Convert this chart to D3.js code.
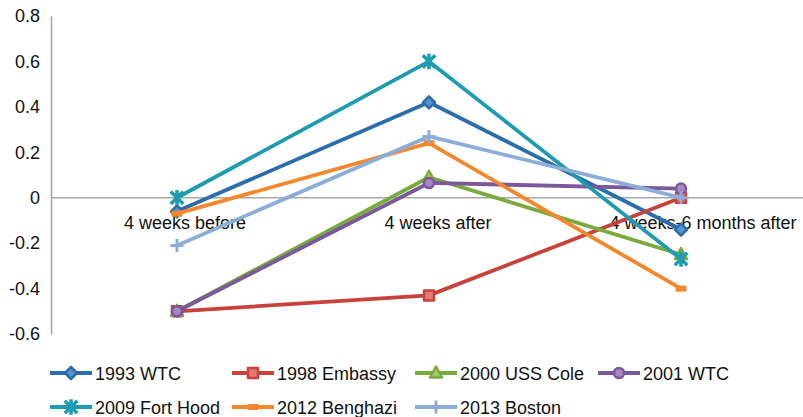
<!DOCTYPE html>
<html>
<head>
<meta charset="utf-8">
<script src="https://cdn.jsdelivr.net/npm/d3@7"></script>
<style>
  html, body { margin: 0; padding: 0; background: #fff; }
  svg { display: block; }
  text { font-family: "Liberation Sans", Arial, Helvetica, sans-serif; fill: #111; }
</style>
</head>
<body>
<svg id="chart" width="803" height="417"></svg>
<script>
// ---- data ----
const categories = ["4 weeks before", "4 weeks after", "4 weeks-6 months after"];
const seriesNames = ["1993 WTC", "1998 Embassy", "2000 USS Cole", "2001 WTC", "2009 Fort Hood", "2012 Benghazi", "2013 Boston"];
const wtc1993   = [-0.06, 0.42, -0.14];
const embassy   = [-0.50, -0.43, 0.00];
const ussCole   = [-0.50, 0.09, -0.25];
const wtc2001   = [-0.50, 0.065, 0.04];
const fortHood  = [0.00, 0.60, -0.27];
const benghazi  = [-0.07, 0.24, -0.40];
const boston    = [-0.21, 0.27, 0.00];
const seriesValues = [wtc1993, embassy, ussCole, wtc2001, fortHood, benghazi, boston];
const yTicks = [0.8, 0.6, 0.4, 0.2, 0, -0.2, -0.4, -0.6];

// ---- styles ----
const colors = ["#2b6cab", "#c8413b", "#79aa3d", "#7b589c", "#1d9bb0", "#f5872d", "#8cadd8"];
const fills  = ["#5b93cc", "#e07a74", "#9fcb6a", "#a687c2", "#52bfd0", "#f9a760", "#b4cbea"];
const markers = ["diamond", "square", "triangle", "circle", "x", "dash", "plus"];
const labelDx = [8, 9, 22];

const svg = d3.select("#chart");
const margin = {left: 51, top: 16, bottom: 334};

const x = d3.scaleBand().domain(categories).range([51, 807]);
const y = d3.scaleLinear().domain([-0.6, 0.8]).range([334, 16]);
const cx = c => x(c) + x.bandwidth() / 2;

// axes
const fmt = d => d === 0 ? "0" : d3.format(".1f")(d).replace("\u2212", "-");
const yAxis = d3.axisLeft(y).tickValues(yTicks).tickFormat(fmt).tickSize(0).tickPadding(11);
const gy = svg.append("g").attr("transform", `translate(${margin.left},0)`).call(yAxis);
gy.select(".domain").attr("stroke", "#a8a8a8").attr("stroke-width", 1.6);
gy.selectAll("text").attr("font-size", 18).attr("fill", "#111")
  .style("font-family", '"Liberation Sans", Arial, Helvetica, sans-serif');

svg.append("line")
  .attr("x1", margin.left).attr("x2", 803)
  .attr("y1", y(0)).attr("y2", y(0))
  .attr("stroke", "#a8a8a8").attr("stroke-width", 1.6);

svg.append("g").selectAll("text").data(categories).join("text")
  .attr("x", (d, i) => cx(d) + labelDx[i])
  .attr("y", y(0) + 31)
  .attr("text-anchor", "middle")
  .attr("font-size", 18)
  .text(d => d);

// marker paths
function markerPath(type) {
  switch (type) {
    case "diamond": return "M0,-6L6,0L0,6L-6,0Z";
    case "square": return "M-5,-5H5V5H-5Z";
    case "triangle": return "M0,-6.5L6,4.5H-6Z";
    case "circle": return d3.symbol(d3.symbolCircle, 80)();
    case "x": return "M-5,-5L5,5M5,-5L-5,5M0,-6V6";
    case "dash": return "M-5,-2.5H5V2.5H-5Z";
    case "plus": return "M-5,0H5M0,-5V5";
  }
}
function drawMarker(g, i) {
  const t = markers[i];
  if (t === "x" || t === "plus") {
    g.append("path").attr("d", markerPath(t)).attr("fill", "none")
      .attr("stroke", colors[i]).attr("stroke-width", t === "x" ? 3.5 : 3).attr("stroke-linecap", "square");
  } else if (t === "dash") {
    g.append("path").attr("d", markerPath(t)).attr("fill", colors[i]).attr("stroke", colors[i]).attr("stroke-width", 1);
  } else {
    g.append("path").attr("d", markerPath(t)).attr("fill", fills[i])
      .attr("stroke", colors[i]).attr("stroke-width", 2.5).attr("stroke-linejoin", "round");
  }
}

// lines
const line = d3.line().x((d, i) => cx(categories[i])).y(d => y(d));
seriesValues.forEach((vals, si) => {
  const g = svg.append("g");
  g.append("path").datum(vals).attr("d", line)
    .attr("fill", "none").attr("stroke", colors[si]).attr("stroke-width", 3.8)
    .attr("stroke-linejoin", "round");
  vals.forEach((v, i) => {
    const mg = g.append("g").attr("transform", `translate(${cx(categories[i])},${y(v)})`);
    drawMarker(mg, si);
  });
});

// legend
const legendCols = [50, 232, 415, 598];
const legendRows = [373, 407];
seriesNames.forEach((name, i) => {
  const lx = legendCols[i % 4], ly = legendRows[Math.floor(i / 4)];
  const g = svg.append("g");
  g.append("line").attr("x1", lx).attr("x2", lx + 42).attr("y1", ly).attr("y2", ly)
    .attr("stroke", colors[i]).attr("stroke-width", 3.8);
  const mg = g.append("g").attr("transform", `translate(${lx + 21},${ly})`);
  drawMarker(mg, i);
  g.append("text").attr("x", lx + 45).attr("y", ly + 6.5).attr("font-size", 18).text(name);
});
</script>
</body>
</html>
